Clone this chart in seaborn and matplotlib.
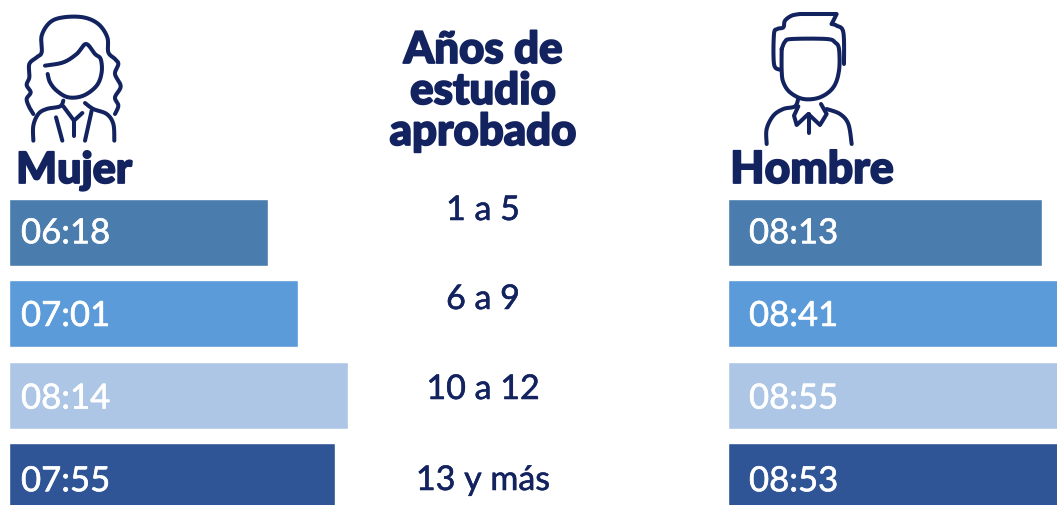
import numpy as np
import pandas as pd
import matplotlib.pyplot as plt
import matplotlib.patheffects as pe
import seaborn as sns

# values, hh:mm
niveles = ['1 a 5', '6 a 9', '10 a 12', '13 y más']
mujer = ['06:18', '07:01', '08:14', '07:55']
hombre = ['08:13', '08:41', '08:55', '08:53']
colores = ['#4A7DAE', '#5B9BD9', '#ADC6E6', '#2F5597']
titulo = ['Años de', 'estudio', 'aprobado']

NAVY = '#13235F'
W, H = 1057, 506

sns.set_theme(style='white')
plt.rcParams['font.family'] = ['Lato', 'DejaVu Sans']

# Lato Black is not picked up, so thicken the bold with a stroke
grueso = [pe.withStroke(linewidth=1.3, foreground=NAVY)]


def a_minutos(h):
    a, b = h.split(':')
    return int(a) * 60 + int(b)


def suave(pts, n=12):
    # catmull-rom through the traced points, icons only
    p = np.array(pts, dtype=float)
    p = np.vstack([p[0], p, p[-1]])
    out = []
    for i in range(1, len(p) - 2):
        for t in np.linspace(0, 1, n, endpoint=False):
            out.append(0.5 * (2 * p[i] + (p[i + 1] - p[i - 1]) * t
                              + (2 * p[i - 1] - 5 * p[i] + 4 * p[i + 1] - p[i + 2]) * t ** 2
                              + (3 * p[i] - p[i - 1] - 3 * p[i + 1] + p[i + 2]) * t ** 3))
    out.append(p[-2])
    return np.array(out)


def barras(rect, valores, px_min, offset):
    x0, ancho = rect
    ax = fig.add_axes([x0 / W, 0, ancho / W, 1])
    df = pd.DataFrame({'nivel': niveles, 'min': [a_minutos(v) for v in valores]})
    sns.barplot(data=df, y='nivel', x='min', hue='nivel', palette=colores, order=niveles,
                width=0.825, saturation=1, legend=False, ax=ax)
    ax.set_xlim(0, ancho / px_min)
    ax.set_ylim((H - 233.5) / 81.4, -233.5 / 81.4)
    ax.axis('off')
    for i, v in enumerate(valores):
        ax.annotate(v, (0, i), xytext=(offset * 0.72, -0.6 - i * 0.9), textcoords='offset points',
                    color='white', fontsize=25, va='center', ha='left',
                    path_effects=[pe.withStroke(linewidth=0.4, foreground='white')])
    return ax


fig = plt.figure(figsize=(W / 100, H / 100), dpi=100, facecolor='white')
barras((9, 351), mujer, 0.686, 12)
barras((728, 329), hombre, 0.636, 21)

# overlay in pixels for the icons and the middle column
ov = fig.add_axes([0, 0, 1, 1], zorder=5)
ov.set_xlim(0, W)
ov.set_ylim(H, 0)
ov.axis('off')
ov.patch.set_alpha(0)

for y, t in zip([64, 105, 146], titulo):
    ov.text(483, y, t, ha='center', va='baseline', color=NAVY, fontsize=31.5, fontweight='black',
            path_effects=grueso)
for y, t in zip([221, 310, 400, 491], niveles):
    ov.text(483, y, t, ha='center', va='baseline', color=NAVY, fontsize=24.5,
            path_effects=[pe.withStroke(linewidth=0.4, foreground=NAVY)])
ov.text(74, 184, 'Mujer', ha='center', va='baseline', color=NAVY, fontsize=31, fontweight='black',
        path_effects=grueso)
ov.text(812, 184, 'Hombre', ha='center', va='baseline', color=NAVY, fontsize=32, fontweight='black',
        path_effects=grueso)

ella = [
    [(100, 345), (88, 325), (80, 300), (92, 280), (80, 258), (88, 235), (88, 195), (110, 175), (125, 160),
     (125, 110), (150, 70), (190, 55), (250, 55), (295, 75), (322, 115), (325, 160), (345, 180), (355, 195),
     (345, 225), (362, 262), (345, 295), (355, 320), (345, 345)],
    [(135, 200), (190, 190), (230, 165), (258, 135), (285, 165), (302, 180), (305, 220), (290, 260),
     (250, 290), (205, 295), (170, 275), (150, 250), (143, 225)],
    [(100, 425), (100, 380), (115, 345), (140, 330), (180, 322), (190, 305)],
    [(255, 312), (280, 330), (320, 345), (340, 375), (343, 425)],
]
ella_rectas = [
    [(190, 322), (222, 365), (247, 342)],
    [(222, 365), (222, 412)],
    [(168, 355), (187, 425)],
    [(275, 335), (255, 425)],
]
el = [
    [(185, 150), (195, 128), (215, 120), (320, 120), (345, 130), (357, 150), (357, 215), (340, 265),
     (300, 295), (250, 300), (210, 280), (190, 250), (185, 215), (185, 150)],
    [(140, 435), (140, 390), (160, 350), (190, 330), (225, 322), (235, 298)],
    [(320, 330), (360, 345), (385, 375), (395, 435)],
    [(178, 212), (162, 195), (162, 105), (172, 90), (190, 85), (195, 65), (215, 50), (240, 45)],
    [(335, 75), (350, 80), (370, 100), (372, 195)],
]
el_rectas = [
    [(240, 45), (350, 45), (335, 75)],
    [(235, 322), (222, 350), (230, 378), (265, 345), (300, 378), (320, 345), (303, 315)],
    [(267, 345), (267, 402)],
]

for dx, curvas, rectas in [(0, ella, ella_rectas), (720, el, el_rectas)]:
    for c in curvas:
        s = suave(c)
        ov.plot(dx + s[:, 0] / 3, s[:, 1] / 3, color=NAVY, lw=2.9, solid_capstyle='round', solid_joinstyle='round')
    for c in rectas:
        s = np.array(c, dtype=float)
        ov.plot(dx + s[:, 0] / 3, s[:, 1] / 3, color=NAVY, lw=2.9, solid_capstyle='round', solid_joinstyle='round')

fig.savefig('out.png', dpi=100, facecolor='white')
